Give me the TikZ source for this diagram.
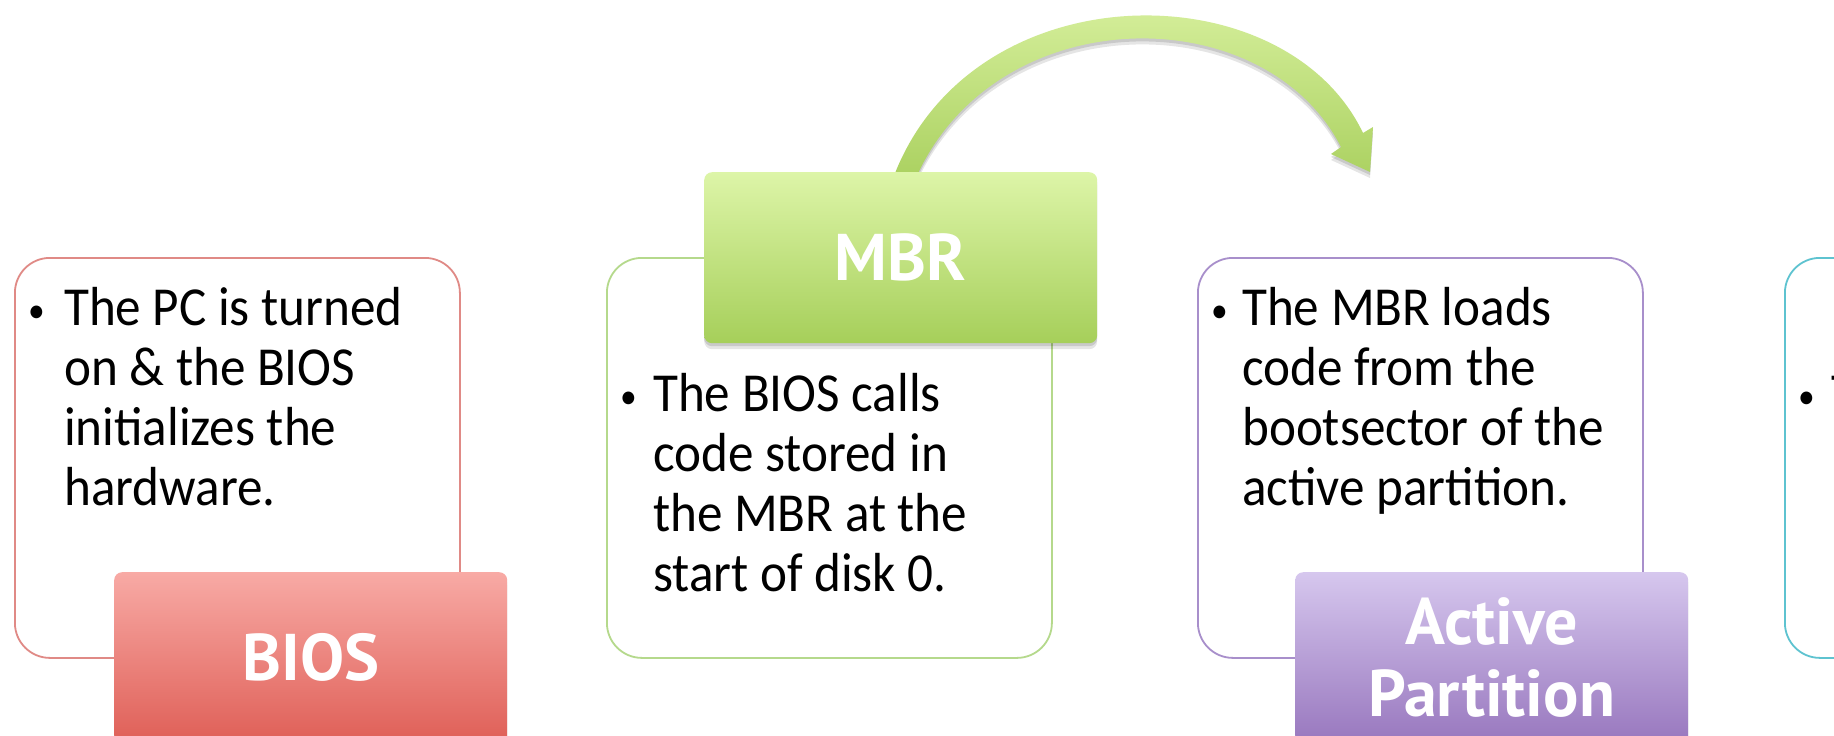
\documentclass[tikz,border=0pt]{standalone}
\usepackage{fontspec}
\setmainfont{Carlito}[FakeStretch=0.93]
\newfontfamily\labelfont{PT Sans}[FakeStretch=1.0]
\usetikzlibrary{calc}
\pgfdeclarelayer{back}
\pgfsetlayers{back,main}
\definecolor{biosline}{HTML}{E08A86}
\definecolor{biostop}{HTML}{F8AAA5}
\definecolor{biosbot}{HTML}{DF5F57}
\definecolor{mbrline}{HTML}{B5D98C}
\definecolor{mbrtop}{HTML}{DDF5A8}
\definecolor{mbrbot}{HTML}{A6CF5A}
\definecolor{apline}{HTML}{A88FCB}
\definecolor{aptop}{HTML}{D6C7EE}
\definecolor{apbot}{HTML}{9877BE}
\definecolor{cyanline}{HTML}{5EC3D0}
\definecolor{arrtop}{HTML}{DDF4A6}
\definecolor{arrbot}{HTML}{ACD262}
\begin{document}
\begin{tikzpicture}[x=1pt,y=-1pt,
  softshadow/.style={
    preaction={fill=black, fill opacity=0.10, transform canvas={yshift=-6pt}},
    preaction={fill=black, fill opacity=0.12, transform canvas={yshift=-3pt}}},
  textbox/.style={draw=#1, line width=1.8pt, rounded corners=35pt, fill=white,
    minimum width=445pt, minimum height=400pt, inner sep=0pt, anchor=north west},
  labelbox/.style n args={2}{softshadow, top color=#1, bottom color=#2, draw=none,
    rounded corners=8pt, minimum width=393pt, minimum height=171pt,
    anchor=north west, inner sep=0pt, text=white, align=center,
    font=\labelfont\bfseries\fontsize{66}{72}\selectfont},
  bodytext/.style={anchor=base west, inner sep=0pt, text=black,
    font=\fontsize{55}{60}\selectfont},
  bulletmark/.style={anchor=base west, inner sep=0pt, text=black,
    font=\fontsize{36}{40}\selectfont},
  bentarrow/.style={softshadow, top color=arrtop, bottom color=arrbot}
]
\useasboundingbox (0,0) rectangle (1834,736);
\clip (0,0) rectangle (1834,736);
\begin{pgfonlayer}{back}
\fill[white] (0,0) rectangle (1834,736);
\end{pgfonlayer}

% text boxes
\node[textbox=biosline] (biosbox) at (14,257) {};
\node[textbox=mbrline] (mbrbox) at (606,257) {};
\node[textbox=apline] (apbox) at (1197,257) {};
\node[textbox=cyanline] (cybox) at (1784,257) {};

% bullets and texts
\node[bulletmark] (biosbul) at ($(biosbox.north west)+(14,65)$) {•};
\node[bodytext] (biostext) at ($(biosbox.north west)+(50,68)$)
  {\parbox[t]{420pt}{The PC is turned\\on \& the BIOS\\initializes the\\hardware.}};

\node[bulletmark] (mbrbul) at ($(mbrbox.north west)+(14,151)$) {•};
\node[bodytext] (mbrtext) at ($(mbrbox.north west)+(47,154)$)
  {\parbox[t]{420pt}{The BIOS calls\\code stored in\\the MBR at the\\start of disk 0.}};

\node[bulletmark] (apbul) at ($(apbox.north west)+(14,65)$) {•};
\node[bodytext] (aptext) at ($(apbox.north west)+(45,68)$)
  {\parbox[t]{420pt}{The MBR loads\\code from the\\bootsector of the\\active partition.}};

\node[bulletmark] (cybul) at ($(cybox.north west)+(14,151)$) {•};
\node[bodytext] (cytext) at ($(cybox.north west)+(47,154)$) {T};

% labels
\node[labelbox={mbrtop}{mbrbot}] (mbrlabel) at (704,172) {MBR};
\node[labelbox={biostop}{biosbot}] (bioslabel) at (114,572) {BIOS};
\node[labelbox={aptop}{apbot}] (aplabel) at (1295,572) {Active\\Partition};

% bent arrow from the MBR label (behind the label)
\coordinate (arrA) at ($(mbrlabel.north)+(-6,2)$);
\coordinate (arrB) at ($(mbrlabel.north)+(17,2)$);
\coordinate (arrtip) at (1370,172);
\begin{pgfonlayer}{back}
\path[bentarrow] (arrA) .. controls (975,-30) and (1285,-30) .. (1363,133)
  -- (1373,127) -- (arrtip) -- (1331,154) -- (1341,147)
  .. controls (1265,-2) and (1000,-2) .. (arrB) -- cycle;
\end{pgfonlayer}
\end{tikzpicture}
\end{document}
